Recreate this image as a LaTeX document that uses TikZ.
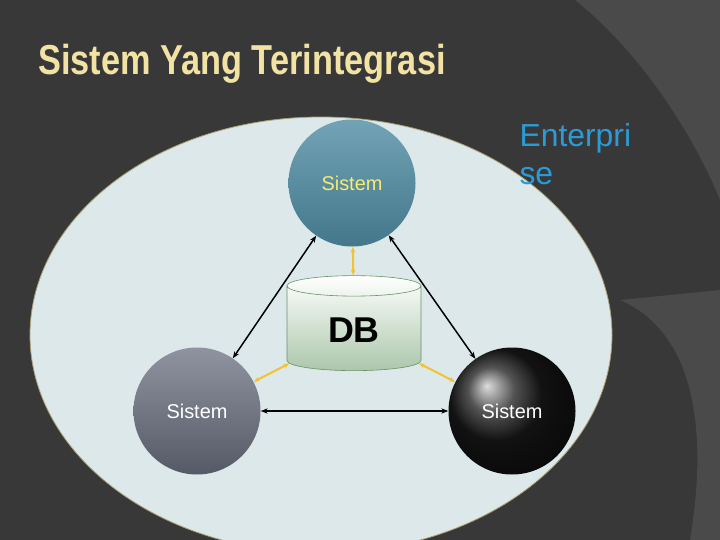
\documentclass[tikz,border=0pt]{standalone}
\usepackage{fontspec}
\setmainfont{Liberation Sans}
\usetikzlibrary{shapes.geometric,arrows.meta}
\definecolor{bgdark}{HTML}{383838}
\definecolor{bgmid}{HTML}{4A4A4A}
\definecolor{titlecol}{HTML}{F2E3A4}
\definecolor{plate}{HTML}{DDE8EB}
\definecolor{entblue}{HTML}{2A9BD6}
\definecolor{linkyellow}{HTML}{F2C230}
\definecolor{topball}{HTML}{4F8CA3}
\definecolor{leftball}{HTML}{6A7080}
\begin{document}
\begin{tikzpicture}[x=1bp,y=-1bp,
    sistem/.style ={circle, inner sep = 0pt, minimum size=127bp, font=\fontsize{20}{20}\selectfont},
    dblink/.style ={{Stealth[length=6bp]}-{Stealth[length=6bp]}, linkyellow, line width=2bp},
    syslink/.style ={{Stealth[length=7bp]}-{Stealth[length=7bp]}, black, line width=1.5bp}]
   \useasboundingbox (0,0) rectangle (720,540);
   \fill[bgdark] (0,0) rectangle (720,540);
   % background swooshes
   \fill[bgmid] (575,0) .. controls (650,60) and (700,150) .. (720,200) -- (720,0) -- cycle;
   \fill[bgmid] (620,300) .. controls (690,330) and (710,420) .. (690,540) -- (720,540) -- (720,290) -- cycle;
   \begin{scope}
     \clip (0,0) rectangle (720,540);
     \filldraw[fill=plate, draw=titlecol!70!black, line width=0.8bp] (321,335) ellipse [x radius=291, y radius=218];
   \end{scope}
   \node[anchor=west, text=titlecol, font=\bfseries\fontsize{42}{42}\selectfont, inner sep=0pt] (title) at (38,64)
     {\addfontfeature{FakeStretch=0.82}Sistem Yang Terintegrasi};
   \node[anchor=north west, text=entblue, align=left, font=\fontsize{32}{38}\selectfont] (ent) at (516,120) {Enterpri\\se};
   \node[sistem, top color=topball!80!white, bottom color=topball!85!black, text=titlecol!70!yellow] (top) at (352,183) {Sistem};
   \node[sistem, top color=leftball!75!white, bottom color=leftball!80!black, text=white] (left) at (197,411) {Sistem};
   \node[sistem, shading=ball, ball color=black!90, text=white] (right) at (512,411) {Sistem};
   \node[cylinder, shape border rotate=90, aspect=0.35, draw=green!30!black!60, line width=0.6bp,
     top color=white, bottom color=green!20!gray!55, minimum width=134bp, minimum height=95bp,
     font=\bfseries\fontsize{36}{36}\selectfont] (db) at (354,330) {DB};
   \draw[syslink] (top) -- (left);
   \draw[syslink] (top) -- (right);
   \draw[syslink] (left) -- (right);
   \draw[dblink] (top) -- (db);
   \draw[dblink] (db) -- (left);
   \draw[dblink] (db) -- (right);
 \end{tikzpicture}
\end{document}
